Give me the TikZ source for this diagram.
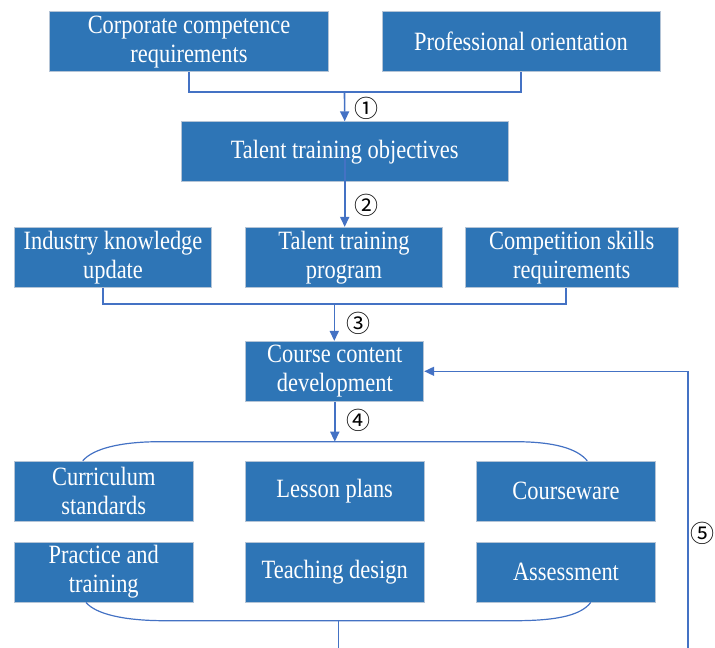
\documentclass[tikz,border=0pt]{standalone}
\usepackage{fontspec}
\setmainfont{Liberation Serif}[FakeStretch=0.85]
\newfontfamily\numfont{Noto Sans CJK SC}
\usepackage{xcolor}
\definecolor{clBox}{HTML}{2E75B6}
\definecolor{clBoxEdge}{HTML}{B4C4D6}
\definecolor{clLink}{HTML}{4472C4}
\usepackage{tikz}
\usetikzlibrary{arrows.meta,positioning}
\tikzset{
  box/.style={rectangle, draw=clBoxEdge, line width=0.8pt, fill=clBox, text=white,
              align=center, inner sep=2pt, minimum height=60pt,
              font=\fontsize{26.4}{29}\selectfont},
  link/.style={draw=clLink, line width=1.6pt},
  flow/.style={link, -{Triangle[length=10pt,width=9pt]}},
  brace/.style={draw=clLink, line width=1.2pt},
  num/.style={font=\numfont\fontsize{24}{24}\selectfont, text=black, inner sep=0pt},
}
\begin{document}
\begin{tikzpicture}[x=1pt, y=-1pt]
  \useasboundingbox (0,0) rectangle (715,648);
  % top row and objectives
  \node[box, minimum width=279pt] (corp) at (189,41.7) {Corporate competence\\requirements};
  \node[box, minimum width=278pt] (prof) at (521,41.7) {Professional orientation};
  \node[box, minimum width=327pt] (obj) at (344.7,151.7) {Talent training objectives};
  % inputs to course content
  \node[box, minimum width=197pt] (ind) at (113,257.3) {Industry knowledge\\update};
  \node[box, minimum width=197pt] (prog) at (344,257.3) {Talent training\\program};
  \node[box, minimum width=213pt] (comp) at (571.8,257.3) {Competition skills\\requirements};
  \node[box, minimum width=178pt] (course) at (334.8,371.3) {Course content\\development};
  % course resources
  \node[box, minimum width=179pt] (curr) at (103.8,491.2) {Curriculum\\standards};
  \node[box, minimum width=179pt] (lesson) at (334.7,491.2) {Lesson plans};
  \node[box, minimum width=179pt] (cware) at (566,491.2) {Courseware};
  \node[box, minimum width=179pt, below=20pt of curr] (prac) {Practice and\\training};
  \node[box, minimum width=179pt, below=20pt of lesson] (teach) {Teaching design};
  \node[box, minimum width=179pt, below=20pt of cware] (assess) {Assessment};

  \coordinate (j1) at (344.5,91.7);
  \coordinate (j3) at (334.3,304);
  \coordinate (topL) at (160,441.7);
  \coordinate (topR) at (515,441.7);
  \coordinate (botL) at (165,620.7);
  \coordinate (botR) at (515,620.7);
  \coordinate (botmid) at (338.3,620.7);
  \coordinate (outL) at (338.3,648);
  \coordinate (outR) at (687.7,648);

  \draw[link] (corp.south) |- (j1) -| (prof.south);
  \draw[flow] (j1) -- (obj.north);
  \draw[flow] (obj.center) -- (obj.center |- prog.north);
  \draw[link] ([xshift=-10.3pt]ind.south) |- (j3) -| ([xshift=-5.8pt]comp.south);
  \draw[flow] (j3) -- (j3 |- course.north);
  \draw[flow] (course.south) -- (course.south |- topL);

  \draw[brace] ([xshift=-21pt]curr.north) .. controls +(10,-12) and +(-40,0) .. (topL)
    -- (topR) .. controls +(40,0) and +(-10,-12) .. ([xshift=21.3pt]cware.north);
  \draw[brace] ([xshift=-17.8pt]prac.south) .. controls +(10,12) and +(-40,0) .. (botL)
    -- (botR) .. controls +(45,0) and +(-9,12) .. ([xshift=24.7pt]assess.south);

  \draw[link] (botmid) -- (outL);
  \draw[flow] (outR) |- (course.east);

  \node[num] (n1) at (366.7,108) {①};
  \node[num] (n2) at (366.7,205) {②};
  \node[num] (n3) at (358,323) {③};
  \node[num] (n4) at (358,420) {④};
  \node[num] (n5) at (702.7,533.3) {⑤};
\end{tikzpicture}
\end{document}
